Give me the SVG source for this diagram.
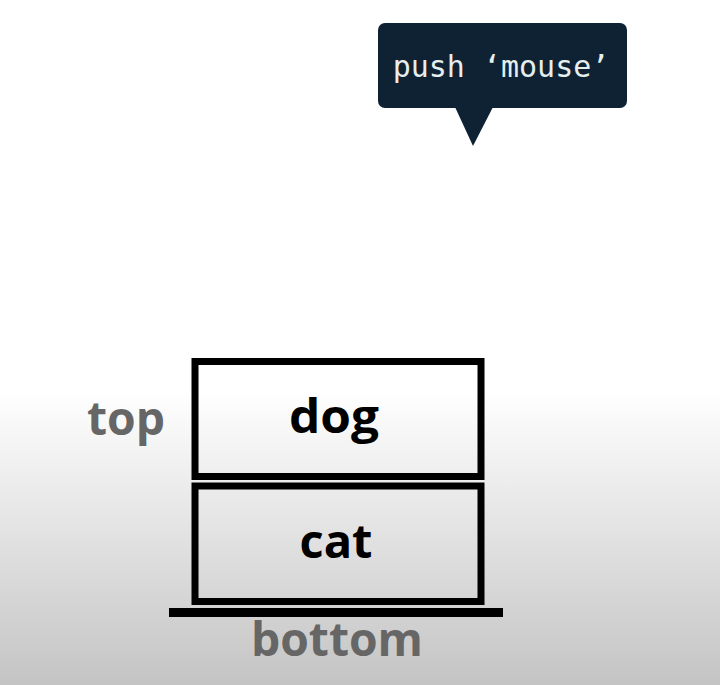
<svg xmlns="http://www.w3.org/2000/svg" width="720" height="685" viewBox="0 0 720 685">
<defs>
<linearGradient id="bg" x1="0" y1="0" x2="0" y2="1">
<stop offset="0" stop-color="#ffffff"/>
<stop offset="0.57" stop-color="#ffffff"/>
<stop offset="1" stop-color="#c4c4c4"/>
</linearGradient>
</defs>
<style>
.box{fill:none;stroke:#000;stroke-width:7}
.lbl{font-family:"Open Sans","Liberation Sans",sans-serif;font-weight:700;font-size:46px;text-anchor:middle}
.side{fill:#666666}
.item{fill:#000}
.code{font-family:"DejaVu Sans Mono","Liberation Mono",monospace;font-size:30px;fill:#e6eeee}
</style>
<rect width="720" height="685" fill="url(#bg)"/>
<g id="bubble">
<rect x="378" y="23" width="249" height="85" rx="7" fill="#0f2233"/>
<polygon points="455,107 493,107 473,146" fill="#0f2233"/>
<text class="code" x="501" y="77" text-anchor="middle">push ‘mouse’</text>
</g>
<g id="dog">
<rect class="box" x="195" y="361.5" width="286" height="115"/>
<text class="lbl item" x="334" y="433" textLength="90" lengthAdjust="spacingAndGlyphs">dog</text>
</g>
<g id="cat">
<rect class="box" x="195" y="486" width="286" height="115.5"/>
<text class="lbl item" x="336" y="558" textLength="73" lengthAdjust="spacingAndGlyphs">cat</text>
</g>
<g id="base">
<rect x="169" y="608" width="334" height="9" fill="#000"/>
</g>
<g id="top-label">
<text class="lbl side" x="126" y="435" textLength="78" lengthAdjust="spacingAndGlyphs">top</text>
</g>
<g id="bottom-label">
<text class="lbl side" x="337" y="656" textLength="172" lengthAdjust="spacingAndGlyphs">bottom</text>
</g>
<g id="connectors"></g>
</svg>
